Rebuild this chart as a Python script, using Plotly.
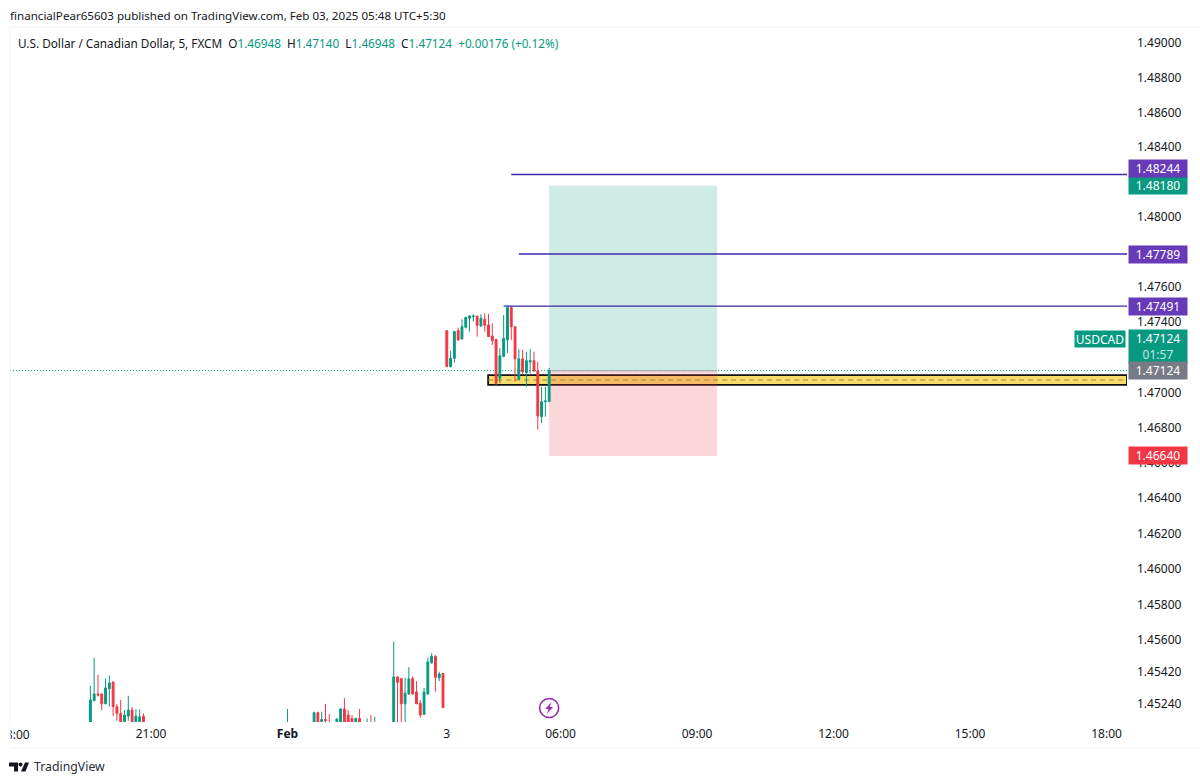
import math
import plotly.graph_objects as go

# ---- data -------------------------------------------------------------
bar_index = [-16,-15,-14,-13,-12,-11,-10,-9,-8,-7,-6,-5,-4,-3,-2,
             36,43,44,45,46,47,49,50,51,52,53,54,55,57,58,59,
             64,65,66,67,68,69,70,71,72,73,74,75,76,77,
             78,79,80,81,82,83,84,85,86,87,88,89,90,91,92,93,94,95,96,97,98,99,100,101,102,103,104,105]
opens = [1.45130,1.45260,1.45296,1.45296,1.45241,1.45326,1.45364,1.45225,1.45187,1.45140,1.45172,1.45206,1.45140,1.45140,1.45172,
         1.45125,1.45130,1.45191,1.45140,1.45153,1.45135,1.45140,1.45130,1.45212,1.45178,1.45159,1.45130,1.45159,1.45125,1.45135,1.45125,
         1.45130,1.45392,1.45383,1.45241,1.45296,1.45383,1.45307,1.45244,1.45182,1.45296,1.45472,1.45508,1.45387,1.45411,
         1.47352,1.47147,1.47194,1.47352,1.47304,1.47371,1.47422,1.47431,1.47435,1.47378,1.47416,1.47384,1.47321,1.47302,1.47081,1.47204,1.47299,1.47484,1.47374,1.47075,1.47191,1.47113,1.47173,1.47181,1.47122,1.46863,1.46948,1.46948]
highs = [1.45343,1.45500,1.45405,1.45301,1.45383,1.45400,1.45364,1.45239,1.45263,1.45206,1.45286,1.45225,1.45210,1.45210,1.45187,
         1.45212,1.45197,1.45197,1.45197,1.45241,1.45184,1.45159,1.45216,1.45273,1.45206,1.45178,1.45163,1.45212,1.45159,1.45178,1.45168,
         1.45591,1.45396,1.45383,1.45387,1.45447,1.45396,1.45368,1.45263,1.45330,1.45500,1.45525,1.45514,1.45421,1.45415,
         1.47352,1.47238,1.47352,1.47369,1.47416,1.47428,1.47441,1.47446,1.47435,1.47446,1.47450,1.47446,1.47393,1.47302,1.47251,1.47441,1.47498,1.47484,1.47374,1.47246,1.47242,1.47232,1.47246,1.47232,1.47175,1.47033,1.47033,1.47140]
lows = [1.45120,1.45254,1.45282,1.45206,1.45241,1.45225,1.45172,1.45146,1.45120,1.45120,1.45146,1.45120,1.45120,1.45120,1.45120,
        1.45120,1.45120,1.45120,1.45120,1.45120,1.45120,1.45130,1.45120,1.45120,1.45120,1.45120,1.45120,1.45120,1.45120,1.45120,1.45120,
        1.45120,1.45120,1.45120,1.45120,1.45292,1.45296,1.45241,1.45163,1.45178,1.45292,1.45466,1.45311,1.45368,1.45216,
        1.47147,1.47143,1.47170,1.47295,1.47302,1.47365,1.47346,1.47403,1.47318,1.47374,1.47346,1.47318,1.47270,1.47043,1.47052,1.47204,1.47223,1.47299,1.47062,1.47075,1.47100,1.47033,1.47109,1.47118,1.46790,1.46825,1.46863,1.46948]
closes = [1.45263,1.45296,1.45290,1.45241,1.45330,1.45358,1.45225,1.45187,1.45140,1.45178,1.45206,1.45140,1.45172,1.45168,1.45140,
          1.45135,1.45191,1.45130,1.45153,1.45148,1.45125,1.45155,1.45212,1.45130,1.45130,1.45130,1.45159,1.45135,1.45135,1.45125,1.45135,
          1.45392,1.45362,1.45241,1.45301,1.45381,1.45296,1.45241,1.45178,1.45307,1.45476,1.45508,1.45390,1.45409,1.45220,
          1.47147,1.47194,1.47346,1.47299,1.47374,1.47428,1.47435,1.47435,1.47382,1.47422,1.47382,1.47318,1.47295,1.47052,1.47208,1.47308,1.47484,1.47374,1.47191,1.47191,1.47118,1.47181,1.47181,1.47122,1.46866,1.46948,1.46952,1.47124]

x_tick_vals = [0, 36, 78, 108, 144, 180, 216, 252]
x_tick_text = ["21:00", "<b>Feb</b>", "3", "06:00", "09:00", "12:00", "15:00", "18:00"]
y_tick_vals = [1.49, 1.488, 1.486, 1.484, 1.48, 1.476, 1.474, 1.47, 1.468, 1.466,
               1.464, 1.462, 1.46, 1.458, 1.456, 1.4542, 1.4524]

level_prices = [1.48244, 1.47789, 1.47491]
level_starts = [95, 97, 93]
level_label_shift = [6, 0, 0]
target_price = 1.48180
stop_price = 1.46640
entry_price = 1.47124
tool_start, tool_end = 105, 149.3
zone_top, zone_mid, zone_bottom = 1.47099, 1.47071, 1.47043
zone_start = 88.9
last_price = 1.47124

# ---- layout constants --------------------------------------------------
L, R, T, B = 10, 1127, 28, 722
X_RANGE = [-37.2, 257.4]
Y_RANGE = [math.log10(1.45139), math.log10(1.49086)]
GREEN, RED, PURPLE, GRAY, INK = "#089981", "#f23645", "#673ab7", "#787b86", "#131722"
LINE_PURPLE = "#3d2aa8"
FONT = "Noto Sans"

def px(x):
    return (x - L) / (R - L)

def py(y):
    return (B - y) / (B - T)

fig = go.Figure(go.Candlestick(
    x=bar_index, open=opens, high=highs, low=lows, close=closes,
    increasing=dict(line=dict(color=GREEN, width=1), fillcolor=GREEN),
    decreasing=dict(line=dict(color=RED, width=1), fillcolor=RED),
    whiskerwidth=0, hoverinfo="skip", showlegend=False,
))

shapes = [
    dict(type="rect", xref="x", yref="y", x0=zone_start, x1=X_RANGE[1], y0=zone_bottom, y1=zone_top,
         fillcolor="#f8dc6c", line=dict(color="#111111", width=1.8), layer="below"),
    dict(type="rect", xref="x", yref="y", x0=tool_start, x1=tool_end, y0=entry_price, y1=target_price,
         fillcolor="rgba(8,153,129,0.2)", line_width=0, layer="below"),
    dict(type="rect", xref="x", yref="y", x0=tool_start, x1=tool_end, y0=stop_price, y1=entry_price,
         fillcolor="rgba(242,54,69,0.2)", line_width=0, layer="below"),
    dict(type="line", xref="x", yref="y", x0=tool_start, x1=tool_end, y0=entry_price, y1=entry_price,
         line=dict(color="#a9a9b5", width=1), layer="below"),
    dict(type="line", xref="x", yref="y", x0=zone_start, x1=X_RANGE[1], y0=zone_mid, y1=zone_mid,
         line=dict(color="#9a8a3a", width=1, dash="5px,4px"), layer="below"),
    dict(type="line", xref="paper", yref="y", x0=0, x1=1, y0=last_price, y1=last_price,
         line=dict(color=GREEN, width=1, dash="1px,2px"), layer="below"),
    dict(type="line", xref="paper", yref="paper", x0=0, x1=px(1200), y0=py(27), y1=py(27),
         line=dict(color="#f0f3fa", width=1), layer="below"),
    dict(type="line", xref="paper", yref="paper", x0=0, x1=px(1200), y0=py(748), y1=py(748),
         line=dict(color="#f0f3fa", width=1), layer="below"),
    dict(type="line", xref="paper", yref="paper", x0=0, x1=0, y0=py(27), y1=py(748),
         line=dict(color="#f5f6fa", width=1), layer="below"),
    dict(type="circle", xref="x", yref="paper", xsizemode="pixel", ysizemode="pixel",
         xanchor=105, yanchor=py(708), x0=-9.5, x1=9.5, y0=-9.5, y1=9.5,
         line=dict(color="#9c27b0", width=1.6), fillcolor="white"),
    dict(type="path", xref="x", yref="paper", xsizemode="pixel", ysizemode="pixel",
         xanchor=105, yanchor=py(708), path="M 2.5,6 L -4,-1 L -0.5,-1 L -2.5,-6 L 4,1 L 0.5,1 Z",
         fillcolor="#9c27b0", line_width=0),
    dict(type="path", xref="paper", yref="paper", xsizemode="pixel", ysizemode="pixel",
         xanchor=0, yanchor=py(767),
         path="M -1,4.5 L 8,4.5 L 8,-4.5 L 4,-4.5 L 4,0.5 L -1,0.5 Z M 15,4.5 L 19,4.5 L 15.5,-4.5 L 11,-4.5 Z",
         fillcolor="#131722", line_width=0),
    dict(type="circle", xref="paper", yref="paper", xsizemode="pixel", ysizemode="pixel",
         xanchor=0, yanchor=py(767), x0=8.5, x1=12.5, y0=0.5, y1=4.5, fillcolor="#131722", line_width=0),
]
for price, start in zip(level_prices, level_starts):
    shapes.append(dict(type="line", xref="x", yref="y", x0=start, x1=X_RANGE[1], y0=price, y1=price,
                       line=dict(color=LINE_PURPLE, width=1.3), layer="below"))

def price_tag(text, y, color, shift=0, height=17):
    # annotation positions on a log axis are given as log10 of the value
    return dict(xref="paper", yref="y", x=1.0005, y=math.log10(y), yshift=shift, xanchor="left", yanchor="middle",
                text=text, showarrow=False, bgcolor=color, width=58, height=height, align="center",
                borderpad=0, font=dict(family=FONT, size=12, color="white"))

annotations = [
    dict(xref="paper", yref="paper", x=px(8), y=py(15), xanchor="left", yanchor="middle", showarrow=False,
         text="financialPear65603 published on TradingView.com, Feb 03, 2025 05:48 UTC+5:30",
         font=dict(family=FONT, size=11.6, color=INK)),
    dict(xref="paper", yref="paper", x=px(16), y=py(43), xanchor="left", yanchor="middle", showarrow=False,
         text=("U.S. Dollar / Canadian Dollar, 5, FXCM&nbsp;&nbsp;O<span style='color:#089981'>1.46948</span>"
               "&nbsp;&nbsp;H<span style='color:#089981'>1.47140</span>"
               "&nbsp;&nbsp;L<span style='color:#089981'>1.46948</span>"
               "&nbsp;&nbsp;C<span style='color:#089981'>1.47124</span>"
               "&nbsp;&nbsp;<span style='color:#089981'>+0.00176 (+0.12%)</span>"),
         font=dict(family=FONT, size=11.75, color=INK)),
    dict(xref="paper", yref="paper", x=px(32), y=py(767), xanchor="left", yanchor="middle", showarrow=False,
         text="TradingView", font=dict(family=FONT, size=12.3, color="#2a2e39")),
    dict(xref="x", yref="paper", x=-36, y=py(734), xanchor="center", yanchor="middle", showarrow=False,
         text="18:00", font=dict(family=FONT, size=12, color=INK)),
    dict(xref="paper", yref="paper", x=px(-4), y=py(734), xanchor="left", yanchor="middle", showarrow=False,
         text=" ", bgcolor="white", width=13, height=18, borderpad=0),
    dict(xref="paper", yref="y", x=0.9995, y=math.log10(last_price), yshift=32, xanchor="right", yanchor="middle",
         text="USDCAD", showarrow=False, bgcolor=GREEN, width=50, height=16, borderpad=0,
         font=dict(family=FONT, size=12, color="white")),
    price_tag("1.47124<br><span style='color:#c4e8e1'>01:57</span>", last_price, GREEN, shift=24, height=33),
    price_tag("1.47124", last_price, GRAY),
    price_tag("1.48180", target_price, GREEN),
    price_tag("1.46640", stop_price, RED),
]
for price, shift in zip(level_prices, level_label_shift):
    annotations.append(price_tag(f"{price:.5f}", price, PURPLE, shift=shift))

fig.update_layout(
    width=1200, height=784, autosize=False,
    margin=dict(l=L, r=1200 - R, t=T, b=784 - B, pad=0),
    paper_bgcolor="white", plot_bgcolor="white",
    showlegend=False, dragmode=False,
    font=dict(family=FONT, size=12, color=INK),
    shapes=shapes, annotations=annotations,
    xaxis=dict(range=X_RANGE, rangeslider=dict(visible=False), showgrid=False, zeroline=False,
               showline=False, ticks="", tickmode="array", tickvals=x_tick_vals, ticktext=x_tick_text,
               ticklabelstandoff=3, tickfont=dict(family=FONT, size=12, color=INK), tickangle=0, fixedrange=True),
    yaxis=dict(type="log", range=Y_RANGE, side="right", showgrid=False, zeroline=False, showline=False, ticks="",
               tickmode="array", tickvals=y_tick_vals, ticktext=[f"{v:.5f}" for v in y_tick_vals],
               ticklabelstandoff=9, tickfont=dict(family=FONT, size=12, color=INK), fixedrange=True),
)

fig.write_html(
    "out.html",
    config={"displayModeBar": False, "responsive": False},
    post_script="document.body.style.margin='0';document.body.style.overflow='hidden';",
)
